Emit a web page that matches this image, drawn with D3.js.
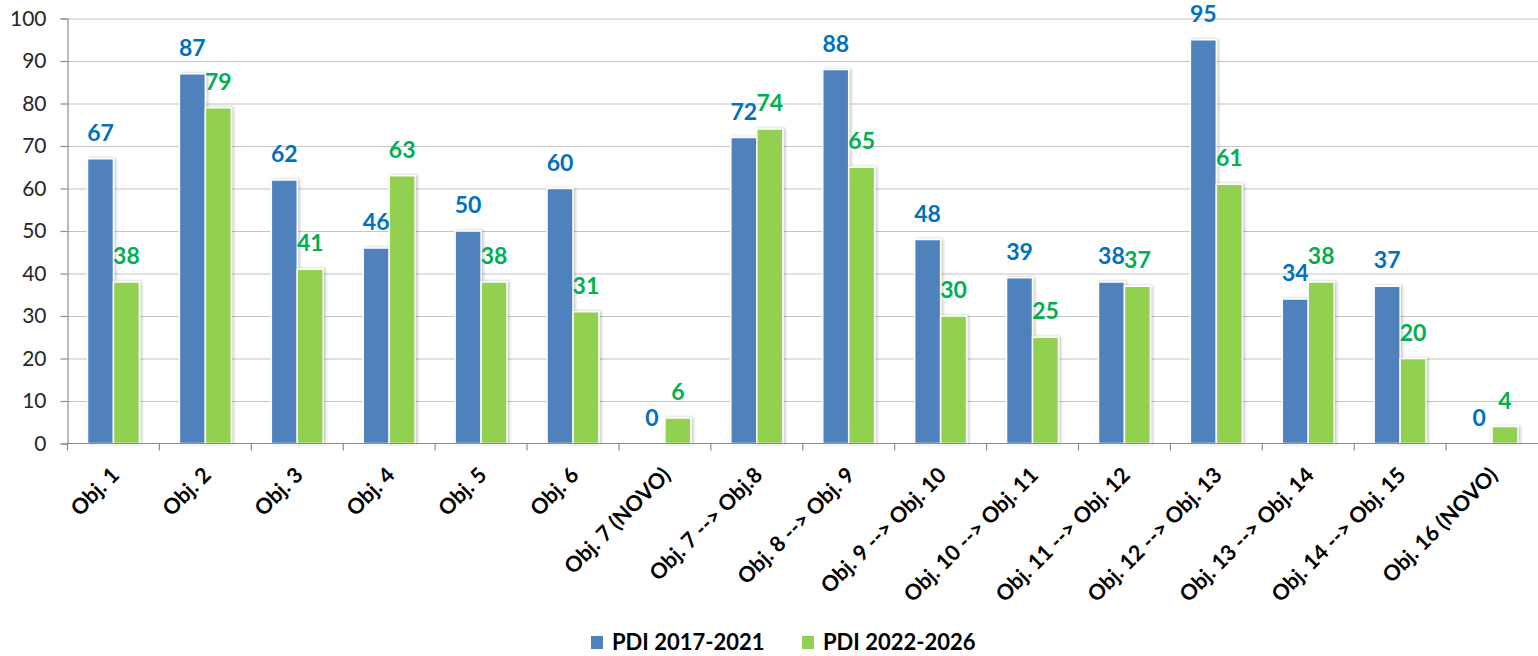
<!DOCTYPE html>
<html>
<head>
<meta charset="utf-8">
<script src="https://cdn.jsdelivr.net/npm/d3@7"></script>
<style>
  body { margin: 0; background: #fff; font-family: Lato, "Open Sans", sans-serif; }
  .grid line { stroke: #c4c4c4; stroke-width: 1.2; }
  .axis text { fill: #262626; }
</style>
</head>
<body>
<div id="chart"></div>
<script>
const categories = ["Obj. 1", "Obj. 2", "Obj. 3", "Obj. 4", "Obj. 5", "Obj. 6", "Obj. 7 (NOVO)",
  "Obj. 7 --> Obj.8", "Obj. 8 --> Obj. 9", "Obj. 9 --> Obj. 10", "Obj. 10 --> Obj. 11",
  "Obj. 11 --> Obj. 12", "Obj. 12 --> Obj. 13", "Obj. 13 --> Obj. 14", "Obj. 14 --> Obj. 15",
  "Obj. 16 (NOVO)"];
const pdi2017 = [67, 87, 62, 46, 50, 60, 0, 72, 88, 48, 39, 38, 95, 34, 37, 0];
const pdi2022 = [38, 79, 41, 63, 38, 31, 6, 74, 65, 30, 25, 37, 61, 38, 20, 4];
const seriesNames = ["PDI 2017-2021", "PDI 2022-2026"];
const yTicks = [0, 10, 20, 30, 40, 50, 60, 70, 80, 90, 100];

const barColors = ["#4f81bd", "#92d050"];
const labelColors = ["#0070c0", "#00b050"];

const W = 1538, H = 656;
const margin = { top: 18.5, right: 0, bottom: 212.5, left: 67.5 };
const width = W - margin.left - margin.right;
const height = H - margin.top - margin.bottom;

const svgRoot = d3.select("#chart").append("svg")
  .attr("width", W).attr("height", H);

const defs = svgRoot.append("defs");
const f = defs.append("filter").attr("id", "shadow")
  .attr("x", "-30%").attr("y", "-10%").attr("width", "160%").attr("height", "120%");
f.append("feDropShadow").attr("dx", 1.5).attr("dy", 0).attr("stdDeviation", 1.5)
  .attr("flood-color", "#000").attr("flood-opacity", 0.25);

const svg = svgRoot.append("g")
  .attr("transform", `translate(${margin.left},${margin.top})`);

const x = d3.scaleBand().domain(categories).range([0, width]);
const y = d3.scaleLinear().domain([0, 100]).range([height, 0]);

// gridlines
svg.append("g").attr("class", "grid")
  .call(d3.axisLeft(y).tickValues(yTicks.slice(1)).tickSize(-width).tickFormat(""))
  .call(g => g.select(".domain").remove());

// y axis
svg.append("g").attr("class", "axis")
  .call(d3.axisLeft(y).tickValues(yTicks).tickSize(7).tickPadding(14))
  .call(g => g.selectAll("line").attr("stroke", "#8c8c8c").attr("stroke-width", 1.2))
  .call(g => g.select(".domain").attr("stroke", "#8c8c8c").attr("stroke-width", 1.2))
  .call(g => g.selectAll("text").attr("font-size", 21).attr("font-family", "Lato, sans-serif"));

// bars
const inner = 20;
const bw = (x.bandwidth() - 2 * inner) / 2;
const sets = [pdi2017, pdi2022];

sets.forEach((vals, s) => {
  const g = svg.append("g");
  g.selectAll("rect")
    .data(categories.map((c, i) => ({ c, v: vals[i] })).filter(d => d.v > 0))
    .join("rect")
    .attr("x", d => x(d.c) + inner + s * bw)
    .attr("y", d => y(d.v))
    .attr("width", bw)
    .attr("height", d => y(0) - y(d.v))
    .attr("fill", barColors[s])
    .attr("stroke", "#fff")
    .attr("stroke-width", 1.5)
    .attr("filter", "url(#shadow)");
});

// x axis (ticks at category boundaries)
const xAxis = svg.append("g").attr("transform", `translate(0,${height})`);
xAxis.append("line").attr("x1", 0).attr("x2", width)
  .attr("stroke", "#8c8c8c").attr("stroke-width", 1.2);
xAxis.selectAll("line.tk")
  .data(categories)
  .join("line").attr("class", "tk")
  .attr("x1", d => x(d)).attr("x2", d => x(d))
  .attr("y1", 0).attr("y2", 7)
  .attr("stroke", "#8c8c8c").attr("stroke-width", 1.2);

xAxis.selectAll("text")
  .data(categories)
  .join("text")
  .attr("transform", d => `translate(${x(d) + x.bandwidth() / 2 + 7},${33}) rotate(-45)`)
  .attr("text-anchor", "end")
  .attr("font-size", 21.5)
  .attr("font-weight", "bold")
  .attr("fill", "#000")
  .text(d => d);

// value labels
sets.forEach((vals, s) => {
  svg.append("g").selectAll("text")
    .data(categories.map((c, i) => ({ c, v: vals[i] })))
    .join("text")
    .attr("x", d => x(d.c) + inner + s * bw + bw / 2)
    .attr("y", d => y(d.v) - 18)
    .attr("text-anchor", "middle")
    .attr("font-size", 23)
    .attr("font-weight", "bold")
    .attr("fill", labelColors[s])
    .text(d => d.v);
});

// legend
const legend = svgRoot.append("g").attr("transform", "translate(591,636)");
const legendX = [0, 211];
seriesNames.forEach((name, s) => {
  const lg = legend.append("g").attr("transform", `translate(${legendX[s]},0)`);
  lg.append("rect").attr("width", 12).attr("height", 13).attr("fill", barColors[s]);
  lg.append("text").attr("x", 21).attr("y", 13.5)
    .attr("font-size", 22).attr("font-weight", "bold").attr("fill", "#000")
    .text(name);
});
</script>
</body>
</html>
